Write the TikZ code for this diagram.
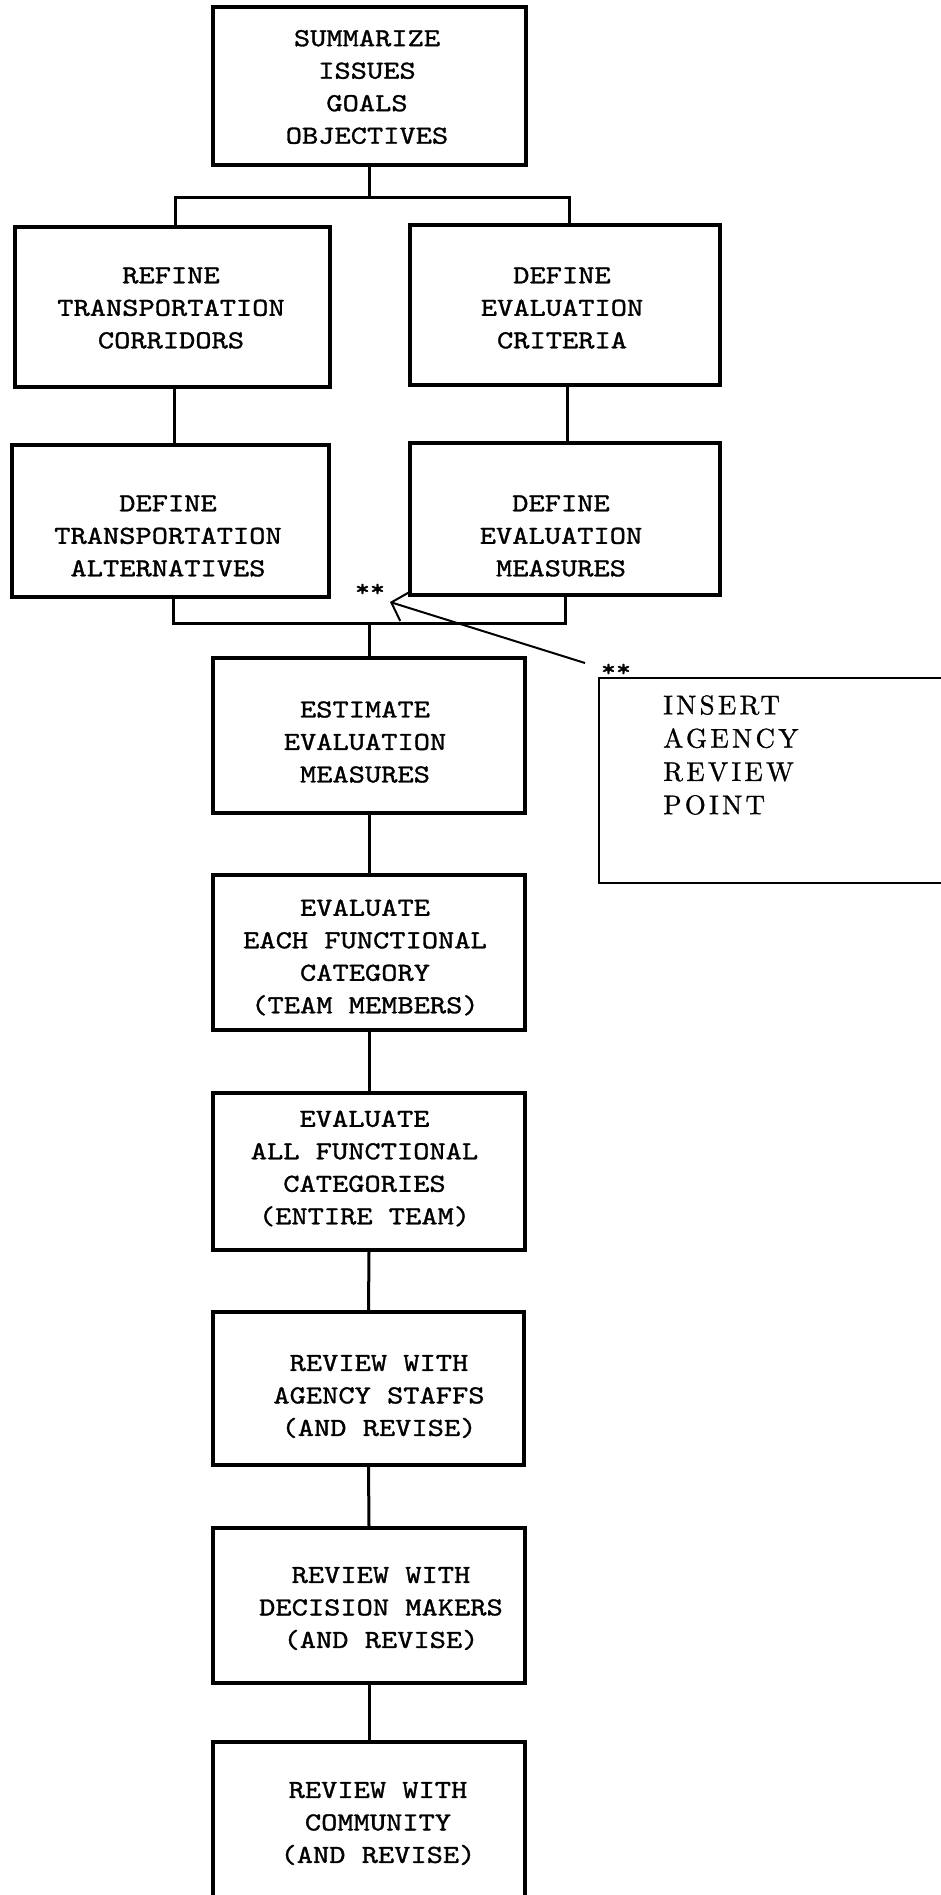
\documentclass[tikz,border=0pt]{standalone}
\usepackage{fontspec}
\usetikzlibrary{arrows.meta}
\newfontfamily\tw{lmmono10-regular.otf}[FakeStretch=1.19,FakeBold=1.2]
\newfontfamily\nt{lmroman10-regular.otf}[LetterSpace=12,FakeBold=1]
\begin{document}
\begin{tikzpicture}[x=1pt,y=-1pt,
  stagebox/.style={draw, line width=3.5pt, inner sep=0pt},
  lbl/.style={font=\tw\fontsize{26}{32.5}\selectfont, align=center, inner sep=0pt},
  link/.style={line width=3pt},
  star/.style={font=\tw\fontsize{24}{24}\selectfont, inner sep=0pt}]
\useasboundingbox (0,0) rectangle (941,1895);
% boxes
\node[stagebox, minimum width=313pt, minimum height=158pt] (b1) at (369.5,86) {};
\node[stagebox, minimum width=315pt, minimum height=160pt] (b2L) at (172.5,307) {};
\node[stagebox, minimum width=310pt, minimum height=160pt] (b2R) at (565,305) {};
\node[stagebox, minimum width=317pt, minimum height=152pt] (b3L) at (170.5,521) {};
\node[stagebox, minimum width=310pt, minimum height=152pt] (b3R) at (565,519) {};
\node[stagebox, minimum width=312pt, minimum height=155pt] (b4) at (369,735.5) {};
\node[stagebox, minimum width=312pt, minimum height=155pt] (b5) at (369,952.5) {};
\node[stagebox, minimum width=312pt, minimum height=157pt] (b6) at (369,1171.5) {};
\node[stagebox, minimum width=311pt, minimum height=153pt] (b7) at (368.5,1388.5) {};
\node[stagebox, minimum width=312pt, minimum height=155pt] (b8) at (369,1605.5) {};
\node[stagebox, minimum width=312pt, minimum height=160pt] (b9) at (369,1822) {};
% texts
\node[lbl] (t1) at (367,87) {SUMMARIZE\\ISSUES\\GOALS\\OBJECTIVES};
\node[lbl] (t2L) at (171,308) {REFINE\\TRANSPORTATION\\CORRIDORS};
\node[lbl] (t2R) at (562,308) {DEFINE\\EVALUATION\\CRITERIA};
\node[lbl] (t3L) at (168,536) {DEFINE\\TRANSPORTATION\\ALTERNATIVES};
\node[lbl] (t3R) at (561,536) {DEFINE\\EVALUATION\\MEASURES};
\node[lbl] (t4) at (365,742) {ESTIMATE\\EVALUATION\\MEASURES};
\node[lbl] (t5) at (365,957.5) {EVALUATE\\EACH FUNCTIONAL\\CATEGORY\\(TEAM MEMBERS)};
\node[lbl] (t6) at (364.5,1168.5) {EVALUATE\\ALL FUNCTIONAL\\CATEGORIES\\(ENTIRE TEAM)};
\node[lbl] (t7) at (379,1396.5) {REVIEW WITH\\AGENCY STAFFS\\(AND REVISE)};
\node[lbl] (t8) at (381,1608.5) {REVIEW WITH\\DECISION MAKERS\\(AND REVISE)};
\node[lbl] (t9) at (378,1823.5) {REVIEW WITH\\COMMUNITY\\(AND REVISE)};
% top split
\coordinate (barL) at (175,197);
\coordinate (barR) at (569,197);
\draw[link] (b1.south) -- (b1.south |- barL);
\draw[link] (barL |- b2L.north) -- (barL) -- (barR) -- (barR |- b2R.north);
% columns
\coordinate (colL) at (174,0);
\coordinate (colR) at (567,0);
\draw[link] (b2L.south -| colL) -- (b3L.north -| colL);
\draw[link] (b2R.south -| colR) -- (b3R.north -| colR);
% join
\coordinate (brL) at (173,623);
\coordinate (brR) at (565,623);
\draw[link] (b3L.south -| brL) -- (brL) -- (brR) -- (b3R.south -| brR);
\draw[link] (b4.north |- brL) -- (b4.north);
% chain
\draw[link] (b4.south) -- (b5.north);
\draw[link] (b5.south) -- (b6.north);
\draw[link] (b6.south) -- (b7.north);
\draw[link] (b7.south) -- (b8.north);
\draw[link] (b8.south) -- (b9.north);
% review point note
\node[draw, line width=2pt, anchor=north west, minimum width=380pt, minimum height=205pt, inner sep=0pt] (note) at (598,677) {};
\node[font=\nt\fontsize{27}{33.3}\selectfont, align=left, anchor=west, inner sep=0pt] (notetxt) at (663,755) {INSERT\\AGENCY\\REVIEW\\POINT};
\node[star] (s1) at (370,590) {**};
\node[star] (s2) at (616,670) {**};
\coordinate (tail) at (585,663);
\coordinate (tip) at (390,602);
\draw[line width=2pt, -{Straight Barb[length=14pt,width=30pt]}] (tail) -- (tip);
\end{tikzpicture}
\end{document}
